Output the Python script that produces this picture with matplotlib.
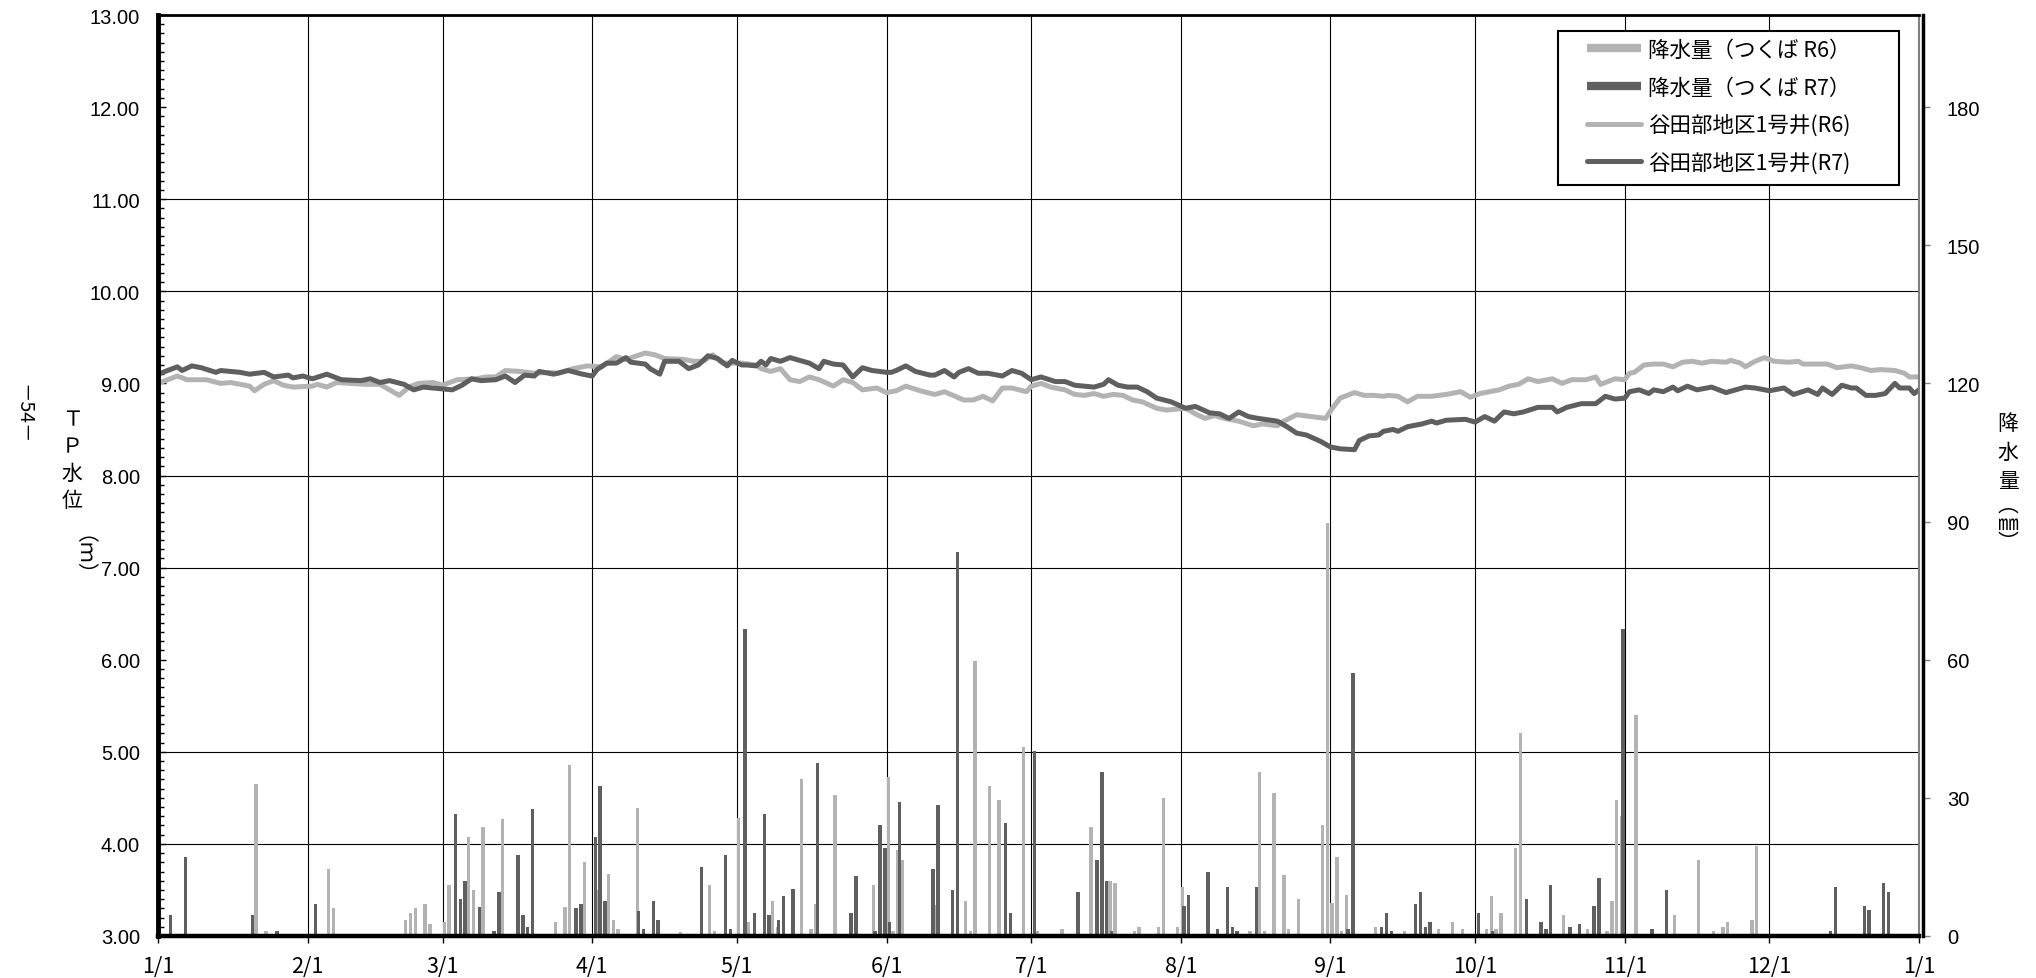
"""
谷田部地区1号井 水位・降水量グラフ (R6 / R7)
"""

import numpy as np
import matplotlib
matplotlib.use('Agg')
import matplotlib.pyplot as plt
import matplotlib.dates as mdates
from datetime import datetime
from matplotlib.lines import Line2D
from matplotlib.patches import Rectangle
from matplotlib.ticker import MultipleLocator, FuncFormatter, FormatStrFormatter

JP = ['Noto Sans CJK JP', 'DejaVu Sans']
plt.rcParams['font.family'] = JP

LIGHT = '#b3b3b3'
DARK = '#5f5f5f'

# --- data (day = days since 1/1) ---
# daily rainfall, mm
rain_r6_day = [20, 21, 22, 35, 36, 46, 51, 52, 53, 55, 56, 59, 60, 64, 65, 67, 71, 82, 84, 85,
               88, 89, 91, 93, 94, 95, 96, 97, 99, 108, 114, 115, 120, 122, 127, 128, 130, 133,
               135, 136, 140, 148, 151, 152, 153, 154, 159, 161, 167, 168, 169, 172, 174, 179,
               182, 184, 187, 193, 197, 198, 201, 202, 203, 207, 208, 211, 212, 226, 228, 229,
               231, 233, 234, 236, 241, 242, 243, 244, 245, 246, 252, 258, 265, 268, 270, 275,
               276, 277, 278, 281, 282, 291, 296, 300, 301, 302, 303, 306, 314, 319, 322, 324,
               325, 330, 331]
rain_r6_mm = [33, 0.5, 1.0, 14.5, 6, 0.5, 3.5, 4.9, 6, 6.9, 2.5, 3, 11, 21.4, 10, 23.6, 25.5, 3, 6.4, 37.1,
              16, 0.5, 10, 13.4, 3.5, 1.5, 0.5, 0.5, 27.9, 0.8, 11, 1, 25.7, 3, 7.5, 2, 0.5, 34,
              1.6, 7, 30.7, 11.1, 34.6, 1, 18.6, 16.6, 0.5, 6.7, 7.5, 1, 59.7, 32.5, 29.6, 41,
              1, 0.5, 1.5, 23.6, 12, 11.6, 0.5, 1, 2, 2, 30, 2, 10.6, 1, 35.6, 1,
              31.1, 13.2, 1.6, 8.1, 24.2, 89.6, 7.2, 17.1, 1, 9, 2, 1, 1.6, 3, 1.6, 1.6,
              8.6, 1.6, 5, 19.1, 44, 4.6, 1.6, 1, 7.6, 29.6, 26, 48, 4.6, 16.6, 1, 2,
              3, 3.5, 19.5]
rain_r7_day = [2, 5, 19, 24, 32, 61, 62, 63, 66, 69, 70, 74, 75, 76, 77, 86, 87, 90, 91, 92,
               99, 100, 102, 103, 112, 117, 118, 121, 123, 125, 126, 128, 129, 131, 136, 143,
               144, 148, 149, 150, 151, 153, 160, 161, 164, 165, 175, 176, 181, 190, 194, 195,
               196, 197, 212, 213, 217, 219, 221, 222, 223, 227, 246, 247, 253, 254, 255, 260,
               261, 262, 263, 273, 276, 283, 286, 287, 288, 292, 294, 297, 298, 303, 309, 312,
               346, 347, 353, 354, 357, 358]
rain_r7_mm = [4.6, 17.1, 4.6, 1, 6.9, 26.5, 8, 12, 6.4, 1, 9.5, 17.6, 4.6, 2, 27.5, 6, 6.9, 21.5, 32.5, 7.5,
              5.5, 1.5, 7.5, 3.5, 15, 17.6, 1.5, 66.7, 5, 26.5, 4.6, 3.5, 8.6, 10.1, 37.6, 5,
              13.1, 1, 24.2, 19.1, 3, 29, 14.6, 28.5, 10, 83.4, 24.6, 5, 40.1, 9.5, 16.6, 35.6,
              12, 1, 6.5, 9, 14, 1.6, 10.6, 2, 1, 10.6, 1.6, 57.1, 2, 5, 1, 7,
              9.5, 2, 3, 5, 1, 8.1, 3, 1.6, 11.1, 2, 2.5, 6.5, 12.6, 66.7, 1.6, 10,
              1, 10.6, 6.5, 5.6, 11.6, 9.5]

# groundwater level, TP m
well_r6_day = [0, 4, 6, 10, 13, 15, 19, 20, 22, 24, 26, 28, 32, 33, 35, 37, 40, 43, 46, 47,
               50, 52, 54, 57, 59, 62, 66, 68, 70, 72, 75, 78, 81, 83, 86, 89, 92, 95, 97, 101,
               103, 105, 109, 111, 113, 115, 117, 120, 121, 124, 125, 127, 129, 131, 133, 135,
               137, 140, 142, 144, 146, 149, 151, 153, 155, 158, 161, 163, 167, 169, 171, 173,
               175, 177, 180, 181, 183, 185, 188, 190, 192, 194, 196, 198, 200, 202, 204, 207,
               209, 213, 215, 217, 219, 221, 224, 227, 229, 232, 233, 236, 239, 242, 243, 245,
               248, 250, 252, 254, 255, 257, 259, 261, 264, 267, 270, 272, 274, 276, 278, 280,
               282, 284, 286, 289, 291, 293, 296, 298, 299, 302, 304, 305, 306, 308, 310, 312,
               314, 316, 318, 320, 322, 325, 326, 328, 329, 331, 333, 335, 338, 340, 341, 344,
               346, 348, 351, 353, 355, 357, 360, 362, 363, 365]
well_r6_lv = [9.00, 9.08, 9.04, 9.04, 9.00, 9.01, 8.97, 8.92, 8.99, 9.03, 8.98, 8.96, 8.97, 8.99, 8.96, 9.01, 9.00, 8.99, 8.99, 8.96,
              8.87, 8.96, 9.00, 9.01, 8.98, 9.04, 9.05, 9.07, 9.07, 9.14, 9.13, 9.11, 9.12, 9.11, 9.16, 9.19, 9.18, 9.29, 9.26, 9.33,
              9.31, 9.27, 9.26, 9.24, 9.24, 9.31, 9.22, 9.22, 9.22, 9.20, 9.16, 9.13, 9.16, 9.04, 9.02, 9.07,
              9.04, 8.97, 9.04, 9.01, 8.93, 8.95, 8.90, 8.92, 8.97, 8.92, 8.88, 8.91, 8.82, 8.82, 8.86, 8.81,
              8.95, 8.95, 8.91, 8.97, 9.00, 8.96, 8.93, 8.88, 8.87, 8.89, 8.86, 8.88, 8.87, 8.82, 8.80, 8.73,
              8.71, 8.73, 8.67, 8.62, 8.65, 8.62, 8.59, 8.54, 8.56, 8.54, 8.58, 8.66, 8.64, 8.62, 8.70, 8.84,
              8.90, 8.87, 8.87, 8.86, 8.87, 8.86, 8.80, 8.86, 8.86, 8.88, 8.91, 8.85, 8.89, 8.91, 8.93, 8.97,
              8.99, 9.05, 9.02, 9.05, 9.00, 9.04, 9.04, 9.07, 8.99, 9.05, 9.04, 9.11, 9.12, 9.20, 9.21, 9.21,
              9.18, 9.23, 9.24, 9.22, 9.24, 9.23, 9.25, 9.22, 9.18, 9.24, 9.28, 9.24, 9.23, 9.24, 9.21, 9.21,
              9.21, 9.17, 9.19, 9.17, 9.14, 9.15, 9.14, 9.11, 9.07, 9.07]
well_r7_day = [0, 4, 5, 7, 9, 12, 13, 17, 19, 22, 24, 27, 28, 30, 32, 35, 36, 38, 42, 44,
               46, 48, 51, 53, 55, 57, 61, 63, 65, 67, 70, 72, 74, 76, 78, 79, 82, 85, 88, 90,
               91, 93, 95, 97, 98, 101, 102, 104, 105, 108, 110, 112, 114, 116, 118, 119, 121, 122,
               124, 125, 126, 127, 129, 131, 133, 135, 137, 138, 140, 142, 144, 146, 148, 151,
               152, 153, 155, 157, 160, 161, 163, 165, 166, 168, 170, 172, 175, 177, 179, 181,
               183, 186, 188, 190, 194, 196, 197, 199, 201, 203, 205, 207, 210, 213, 215, 218,
               220, 222, 224, 226, 228, 232, 234, 236, 238, 241, 243, 245, 248, 249, 251, 253,
               254, 256, 257, 259, 262, 264, 265, 267, 271, 273, 275, 277, 279, 281, 283, 286,
               289, 290, 292, 295, 298, 300, 302, 304, 305, 307, 309, 310, 312, 314, 315, 317,
               319, 322, 325, 327, 329, 331, 334, 337, 339, 342, 344, 345, 347, 349, 351, 352,
               354, 356, 358, 360, 361, 363, 364, 365]
well_r7_lv = [9.10, 9.18, 9.14, 9.19, 9.17, 9.12, 9.14, 9.12, 9.10, 9.12, 9.07, 9.09, 9.06, 9.08, 9.05, 9.10, 9.08, 9.04, 9.03, 9.05,
              9.01, 9.03, 8.99, 8.93, 8.96, 8.95, 8.93, 8.98, 9.05, 9.03, 9.04, 9.08, 9.01, 9.09, 9.08, 9.13, 9.10, 9.14, 9.10, 9.08,
              9.15, 9.22, 9.22, 9.28, 9.23, 9.21, 9.16, 9.10, 9.24, 9.24, 9.16, 9.20, 9.30, 9.27, 9.19, 9.25, 9.20, 9.20,
              9.19, 9.24, 9.20, 9.27, 9.24, 9.28, 9.25, 9.22, 9.16, 9.24, 9.21, 9.20, 9.07, 9.17, 9.14, 9.12,
              9.12, 9.14, 9.19, 9.13, 9.09, 9.09, 9.14, 9.07, 9.12, 9.16, 9.11, 9.11, 9.08, 9.14, 9.11, 9.04,
              9.07, 9.02, 9.02, 8.98, 8.96, 8.99, 9.04, 8.98, 8.96, 8.96, 8.91, 8.84, 8.80, 8.73, 8.75, 8.68,
              8.67, 8.62, 8.69, 8.64, 8.62, 8.59, 8.53, 8.46, 8.44, 8.37, 8.31, 8.29, 8.28, 8.38, 8.43, 8.44,
              8.48, 8.50, 8.48, 8.53, 8.56, 8.59, 8.57, 8.60, 8.61, 8.58, 8.64, 8.59, 8.69, 8.67, 8.69, 8.74,
              8.74, 8.69, 8.74, 8.78, 8.78, 8.86, 8.83, 8.84, 8.91, 8.93, 8.89, 8.93, 8.91, 8.96, 8.92, 8.97,
              8.93, 8.96, 8.90, 8.93, 8.96, 8.95, 8.92, 8.95, 8.88, 8.93, 8.88, 8.95, 8.88, 8.98, 8.95, 8.95,
              8.87, 8.87, 8.89, 9.00, 8.95, 8.95, 8.89, 8.93]

labels = ['降水量（つくば R6）', '降水量（つくば R7）', '谷田部地区1号井(R6)', '谷田部地区1号井(R7)']


def main():
    x0 = mdates.date2num(datetime(2025, 1, 1))

    fig = plt.figure(figsize=(20.36, 9.79), dpi=100)
    ax2 = fig.add_axes([158 / 2036, 42 / 979, 1761 / 2036, 921 / 979])
    ax = ax2.twinx()

    # rainfall (right axis), drawn underneath
    ax2.bar(x0 + np.array(rain_r6_day) + 0.35, rain_r6_mm, width=0.7, color=LIGHT, zorder=2)
    ax2.bar(x0 + np.array(rain_r7_day) + 0.65, rain_r7_mm, width=0.7, color=DARK, zorder=3)
    ax2.set_ylim(0, 200)
    ax2.set_yticks(np.arange(0, 181, 30))
    ax2.yaxis.set_minor_locator(MultipleLocator(20))
    ax2.yaxis.tick_right()
    ax2.set_axisbelow(True)
    ax2.grid(True, which='minor', axis='y', color='black', lw=0.8)
    ax2.grid(True, which='major', axis='x', color='black', lw=0.8)
    ax2.tick_params(axis='y', which='major', direction='out', length=5, width=1,
                    color='#808080', pad=12, labelsize=14.5, labelfontfamily='Liberation Sans')
    ax2.tick_params(axis='y', which='minor', length=0)
    for s in ['left', 'top', 'bottom']:
        ax2.spines[s].set_visible(False)
    ax2.spines['right'].set_position(('outward', 3))
    ax2.spines['right'].set_linewidth(2.5)

    # water level (left axis)
    ax.plot(x0 + np.array(well_r6_day), well_r6_lv, color=LIGHT, lw=3.6, solid_joinstyle='round')
    ax.plot(x0 + np.array(well_r7_day), well_r7_lv, color=DARK, lw=3.6, solid_joinstyle='round')
    ax.yaxis.tick_left()
    ax.set_ylim(3, 13)
    ax.yaxis.set_major_locator(MultipleLocator(1))
    ax.yaxis.set_minor_locator(MultipleLocator(0.1))
    ax.yaxis.set_major_formatter(FormatStrFormatter('%.2f'))
    ax.tick_params(axis='y', which='major', direction='in', length=6, width=1, pad=13,
                   labelsize=14.5, labelfontfamily='Liberation Sans')
    ax.tick_params(axis='y', which='minor', direction='in', length=4, width=1)

    ax.set_xlim(x0, x0 + 365)
    ax2.set_xlim(x0, x0 + 365)
    ax2.xaxis.set_major_locator(mdates.MonthLocator())
    ax2.xaxis.set_major_formatter(FuncFormatter(
        lambda v, p: f"{mdates.num2date(v).month}/{mdates.num2date(v).day}"))
    ax2.tick_params(axis='x', direction='out', length=5, width=1, pad=9, labelsize=15.5)

    ax.spines['left'].set_linewidth(3.5)
    ax.spines['bottom'].set_linewidth(3.2)
    ax.spines['top'].set_linewidth(2)
    ax.spines['right'].set_linewidth(1.5)
    ax.spines['right'].set_color('#808080')

    # legend with its own frame
    fig.patches.append(Rectangle((1558 / 2036, 1 - 186 / 979), 341 / 2036, 154 / 979,
                                 transform=fig.transFigure, facecolor='white',
                                 edgecolor='black', lw=1.5, zorder=4))
    handles = [Line2D([], [], color=LIGHT, lw=6, solid_capstyle='butt'),
               Line2D([], [], color=DARK, lw=6, solid_capstyle='butt'),
               Line2D([], [], color=LIGHT, lw=3.6, solid_capstyle='round'),
               Line2D([], [], color=DARK, lw=3.6, solid_capstyle='round')]
    leg = fig.legend(handles, labels, loc='upper left', bbox_to_anchor=(1587 / 2036, 1 - 40 / 979),
                     frameon=False, borderpad=0, borderaxespad=0, fontsize=15.5,
                     handlelength=2.5, handletextpad=0.35, labelspacing=0.72)
    leg.set_zorder(5)

    # axis titles (vertical writing)
    fig.text(23 / 2036, 1 - 414 / 979, '－54－', rotation=-90, ha='center', va='center', fontsize=14)
    for i, ch in enumerate('ＴＰ水位'):
        fig.text(72 / 2036, 1 - (420 + 27 * i) / 979, ch, ha='center', va='center', fontsize=15)
    fig.text(72 / 2036, 1 - 566 / 979, '（ｍ）', rotation=-90, ha='center', va='center', fontsize=15)
    for i, ch in enumerate('降水量'):
        fig.text(2008 / 2036, 1 - (424 + 29 * i) / 979, ch, ha='center', va='center', fontsize=15)
    fig.text(2008 / 2036, 1 - 524 / 979, '︵\n㎜\n︶', ha='center', va='center', fontsize=15,
             linespacing=0.8)

    fig.savefig('out.png', dpi=100)


if __name__ == "__main__":
    main()
